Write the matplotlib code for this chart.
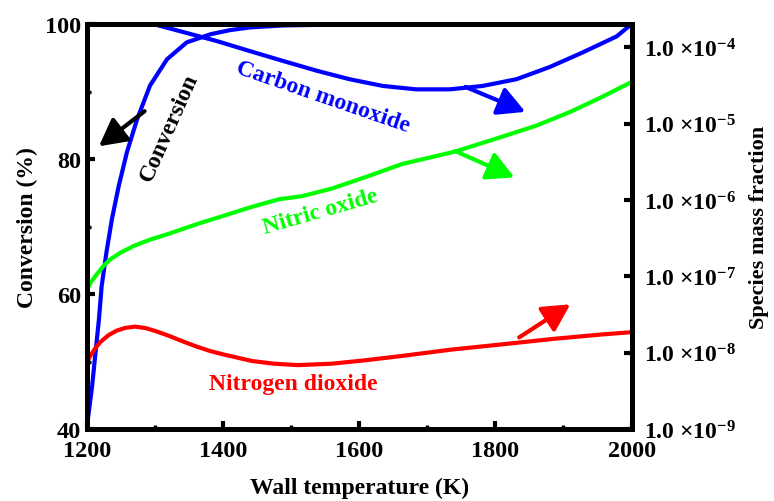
import math
import matplotlib
matplotlib.use("Agg")
import matplotlib.pyplot as plt
from matplotlib.ticker import FixedLocator, MultipleLocator, FuncFormatter, NullLocator

plt.rcParams["font.family"] = ["Liberation Serif", "DejaVu Serif"]
plt.rcParams["font.weight"] = "bold"
plt.rcParams["mathtext.fontset"] = "custom"
plt.rcParams["mathtext.rm"] = "Liberation Serif:bold"
plt.rcParams["mathtext.bf"] = "Liberation Serif:bold"
plt.rcParams["mathtext.default"] = "rm"

# conversion (%) on the left axis
temp_conv = [1200, 1203, 1208, 1213, 1218, 1222, 1229, 1237, 1247, 1259, 1274,
             1293, 1318, 1347, 1382, 1410, 1439, 1488, 1550, 1650, 1800, 2000]
conversion = [40.0, 42.5, 46.4, 51.4, 56.3, 61.2, 66.2, 71.1, 76.0, 81.0, 85.9,
              90.9, 94.8, 97.3, 98.5, 99.1, 99.5, 99.8, 99.9, 100.0, 100.0, 100.0]

# species mass fractions on the right (log) axis
temp_co = [1200, 1250, 1298, 1341, 1391, 1439, 1488, 1538, 1586, 1635, 1684,
           1733, 1781, 1831, 1880, 1928, 1978, 2000]
co_fraction = [2.8e-4, 2.4e-4, 2.0e-4, 1.58e-4, 1.2e-4, 8.9e-5, 6.6e-5, 4.9e-5,
               3.8e-5, 3.1e-5, 2.8e-5, 2.8e-5, 3.1e-5, 3.8e-5, 5.5e-5, 8.5e-5,
               1.38e-4, 2.0e-4]

temp_no = [1200, 1207, 1215, 1225, 1235, 1250, 1269, 1292, 1318, 1342, 1367, 1401,
           1440, 1482, 1516, 1560, 1610, 1663, 1741, 1800, 1859, 1910, 1957, 2000]
no_fraction = [6.7e-8, 8.6e-8, 1.07e-7, 1.38e-7, 1.68e-7, 2.05e-7, 2.5e-7, 3.0e-7,
               3.55e-7, 4.2e-7, 5.0e-7, 6.2e-7, 8.0e-7, 1.02e-6, 1.12e-6, 1.41e-6,
               2.0e-6, 2.95e-6, 4.3e-6, 6.3e-6, 9.3e-6, 1.42e-5, 2.24e-5, 3.5e-5]

temp_no2 = [1200, 1207, 1213, 1220, 1232, 1244, 1257, 1271, 1287, 1303, 1322, 1342,
            1362, 1382, 1401, 1443, 1475, 1510, 1560, 1610, 1663, 1735, 1810, 1885,
            1957, 2000]
no2_fraction = [7.6e-9, 9.6e-9, 1.16e-8, 1.38e-8, 1.7e-8, 1.95e-8, 2.12e-8, 2.2e-8,
                2.1e-8, 1.9e-8, 1.65e-8, 1.4e-8, 1.2e-8, 1.05e-8, 9.5e-9, 7.8e-9,
                7.2e-9, 6.9e-9, 7.2e-9, 8.0e-9, 9.1e-9, 1.1e-8, 1.29e-8, 1.52e-8,
                1.74e-8, 1.86e-8]

right_decades = [-9, -8, -7, -6, -5, -4]

BLUE = "#0000ff"
GREEN = "#00ff00"
RED = "#ff0000"

fig = plt.figure(figsize=(7.74, 5.02), dpi=100)
ax = fig.add_axes([0.112, 0.143, 0.704, 0.807])
ax2 = ax.twinx()

ax.plot(temp_conv, conversion, color=BLUE, lw=3.0)
ax2.plot(temp_co, co_fraction, color=BLUE, lw=3.0)
ax2.plot(temp_no, no_fraction, color=GREEN, lw=3.0)
ax2.plot(temp_no2, no2_fraction, color=RED, lw=3.0)

ax.set_xlim(1200, 2000)
ax.set_ylim(40, 100)
ax2.set_yscale("log")
ax2.set_ylim(1e-9, 2.0e-4)

ax.xaxis.set_major_locator(MultipleLocator(200))
ax.xaxis.set_minor_locator(MultipleLocator(100))
ax.yaxis.set_major_locator(MultipleLocator(20))
ax.yaxis.set_minor_locator(MultipleLocator(10))

ax2.yaxis.set_major_locator(FixedLocator([10.0 ** e for e in right_decades]))
ax2.yaxis.set_minor_locator(NullLocator())
ax2.yaxis.set_major_formatter(
    FuncFormatter(lambda v, pos: "1.0 \u00d710$^{%d}$" % round(math.log10(v))))

for a in (ax, ax2):
    for sp in a.spines.values():
        sp.set_linewidth(3.5)
        sp.set_zorder(5)

ax.tick_params(axis="both", which="major", direction="in", length=6, width=3,
               labelsize=17.5, top=False, right=False)
ax.tick_params(axis="both", which="minor", direction="in", length=3, width=2.5,
               top=False, right=False)
ax.tick_params(axis="y", which="major", pad=4)
ax.tick_params(axis="x", which="major", pad=8)
ax2.tick_params(axis="y", which="major", direction="in", length=6, width=3,
                labelsize=17, pad=9)

ax.set_xlabel("Wall temperature (K)", fontsize=17, fontweight="bold")
ax.set_ylabel("Conversion (%)", fontsize=17, fontweight="bold")
ax2.set_ylabel("Species mass fraction", fontsize=16, fontweight="bold")
ax.xaxis.set_label_coords(0.5, -0.118)
ax.yaxis.set_label_coords(-0.09, 0.5)
ax2.yaxis.set_label_coords(1.216, 0.5)

arrow = dict(arrowstyle="-|>,head_length=0.75,head_width=0.4", lw=3.0,
             mutation_scale=22, shrinkA=0, shrinkB=0)
ax.annotate("", xy=(1218, 81.9), xytext=(1285, 87.1),
            arrowprops=dict(arrow, color="black"))
ax.annotate("", xy=(1844, 87.0), xytext=(1756, 90.7),
            arrowprops=dict(arrow, color=BLUE))
ax.annotate("", xy=(1828, 77.3), xytext=(1741, 81.2),
            arrowprops=dict(arrow, color=GREEN))
ax.annotate("", xy=(1910, 58.5), xytext=(1835, 53.6),
            arrowprops=dict(arrow, color=RED))

ax.text(1321, 84.7, "Conversion", color="black", fontsize=17, fontweight="bold",
        rotation=66, ha="center", va="center", rotation_mode="anchor")
ax.text(1547, 89.3, "Carbon monoxide", color=BLUE, fontsize=17, fontweight="bold",
        rotation=-19, ha="center", va="center", rotation_mode="anchor")
ax.text(1544, 72.3, "Nitric oxide", color=GREEN, fontsize=17, fontweight="bold",
        rotation=16, ha="center", va="center", rotation_mode="anchor")
ax.text(1503, 46.7, "Nitrogen dioxide", color=RED, fontsize=17, fontweight="bold",
        ha="center", va="center")

fig.savefig("out.png", dpi=100)
